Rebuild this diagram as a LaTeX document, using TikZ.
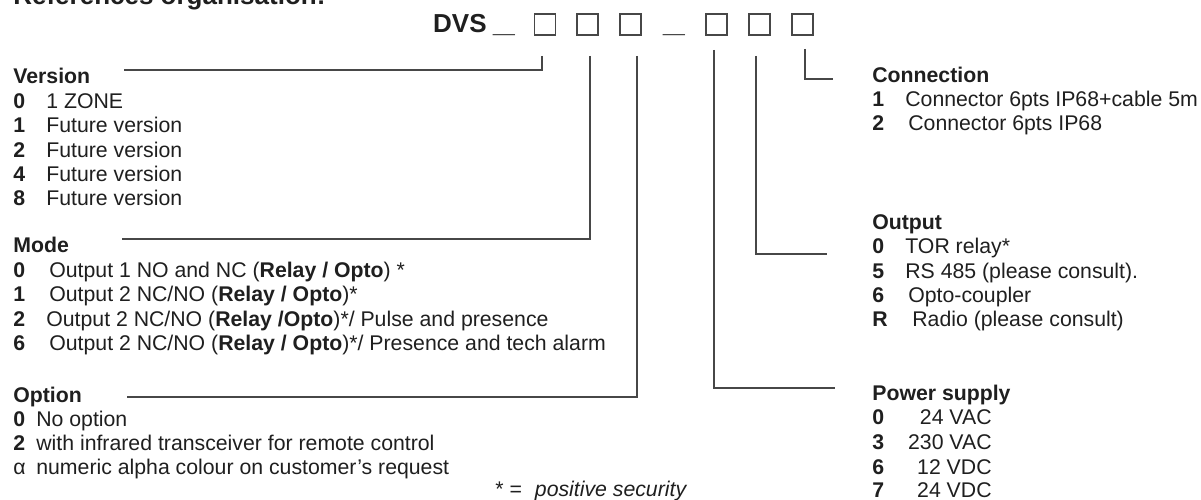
\documentclass[tikz,border=0pt]{standalone}
\usepackage{fontspec}
\setmainfont{Liberation Sans}
\usetikzlibrary{positioning}
\definecolor{inkgray}{HTML}{1F1F1F}
\definecolor{leadgray}{HTML}{474747}
\tikzset{
  codebox/.style={draw=leadgray, line width=1.1pt, minimum size=0.42cm, inner sep=0pt},
  codetext/.style={text=inkgray, inner sep=0pt, anchor=base, font=\fontsize{14.8}{17}\selectfont\bfseries},
  headtext/.style={text=inkgray, inner sep=0pt, anchor=base west, font=\fontsize{12.1}{14}\selectfont\bfseries},
  itemtext/.style={text=inkgray, inner sep=0pt, anchor=base west, font=\fontsize{12.1}{14}\selectfont},
  valuetext/.style={itemtext, anchor=base east},
  leadline/.style={draw=leadgray, line width=1.1pt}
}

\begin{document}
\begin{tikzpicture}[x=0.02cm, y=-0.02cm]
    \useasboundingbox[fill=white] (0,0) rectangle (1201,500);

    % reference code
    \node[codetext, anchor=base west] (title) at (13,5) {References organisation:};
    \node[codetext, anchor=base east] (dvs) at (487,33) {DVS};
    \node[codetext] (sep1) at (504,33) {\scalebox{1.5}[1]{\_}};
    \node[codebox] (b1) at (545,24.5) {};
    \node[codebox, right=0.4cm of b1] (b2) {};
    \node[codebox, right=0.4cm of b2] (b3) {};
    \node[codetext] (sep2) at (674,33) {\scalebox{1.5}[1]{\_}};
    \node[codebox, right=1.25cm of b3] (b4) {};
    \node[codebox, right=0.4cm of b4] (b5) {};
    \node[codebox, right=0.4cm of b5] (b6) {};

    % left column
    \node[headtext] (version) at (13,84) {Version};
    \node[headtext] (ver0) at (13,108.5) {0};
    \node[itemtext] (ver0txt) at (46,108.5) {1 ZONE};
    \node[headtext] (ver1) at (13,132.5) {1};
    \node[itemtext] (ver1txt) at (46,132.5) {Future version};
    \node[headtext] (ver2) at (13,157) {2};
    \node[itemtext] (ver2txt) at (46,157) {Future version};
    \node[headtext] (ver4) at (13,181) {4};
    \node[itemtext] (ver4txt) at (46,181) {Future version};
    \node[headtext] (ver8) at (13,205.5) {8};
    \node[itemtext] (ver8txt) at (46,205.5) {Future version};

    \node[headtext] (mode) at (13,253) {Mode};
    \node[headtext] (mode0) at (13,277.5) {0};
    \node[itemtext] (mode0txt) at (49,277.5) {Output 1 NO and NC (\textbf{Relay / Opto}) *};
    \node[headtext] (mode1) at (13,301.5) {1};
    \node[itemtext] (mode1txt) at (49,301.5) {Output 2 NC/NO (\textbf{Relay / Opto})*};
    \node[headtext] (mode2) at (13,326) {2};
    \node[itemtext] (mode2txt) at (46,326) {Output 2 NC/NO (\textbf{Relay /Opto})*/ Pulse and presence};
    \node[headtext] (mode6) at (13,350) {6};
    \node[itemtext] (mode6txt) at (49,350) {Output 2 NC/NO (\textbf{Relay / Opto})*/ Presence and tech alarm};

    \node[headtext] (option) at (13,402) {Option};
    \node[headtext] (opt0) at (13,426) {0};
    \node[itemtext] (opt0txt) at (36,426) {No option};
    \node[headtext] (opt2) at (13,450) {2};
    \node[itemtext] (opt2txt) at (36,450) {with infrared transceiver for remote control};
    \node[itemtext] (optalpha) at (13,474) {α};
    \node[itemtext] (optalphatxt) at (36,474) {numeric alpha colour on customer's request};

    \node[itemtext] (footnote) at (495,496) {* =\hspace{0.26cm}\textit{positive security}};

    % right column
    \node[headtext] (connection) at (872,82.5) {Connection};
    \node[headtext] (con1) at (872,106.5) {1};
    \node[itemtext] (con1txt) at (905,106.5) {Connector 6pts IP68+cable 5m};
    \node[headtext] (con2) at (872,130.5) {2};
    \node[itemtext] (con2txt) at (908,130.5) {Connector 6pts IP68};

    \node[headtext] (output) at (872,229.5) {Output};
    \node[headtext] (out0) at (872,253.5) {0};
    \node[itemtext] (out0txt) at (905,253.5) {TOR relay*};
    \node[headtext] (out5) at (872,278) {5};
    \node[itemtext] (out5txt) at (905,278) {RS 485 (please consult).};
    \node[headtext] (out6) at (872,302.5) {6};
    \node[itemtext] (out6txt) at (908,302.5) {Opto-coupler};
    \node[headtext] (outR) at (872,326.5) {R};
    \node[itemtext] (outRtxt) at (912,326.5) {Radio (please consult)};

    \node[headtext] (power) at (872,400.5) {Power supply};
    \node[headtext] (pow0) at (872,424.5) {0};
    \node[valuetext] (pow0txt) at (992,424.5) {24 VAC};
    \node[headtext] (pow3) at (872,449) {3};
    \node[valuetext] (pow3txt) at (992,449) {230 VAC};
    \node[headtext] (pow6) at (872,474) {6};
    \node[valuetext] (pow6txt) at (992,474) {12 VDC};
    \node[headtext] (pow7) at (872,497.5) {7};
    \node[valuetext] (pow7txt) at (992,497.5) {24 VDC};

    % leader lines
    \coordinate (verend) at (124,70);
    \coordinate (modeend) at (122,239);
    \coordinate (optend) at (127,397);
    \coordinate (conend) at (833,79);
    \coordinate (outend) at (827,254);
    \coordinate (powend) at (835,388);

    \draw[leadline] ([xshift=-0.06cm, yshift=-0.4cm]b1.south) |- (verend);
    \draw[leadline] ([xshift=0.04cm, yshift=-0.4cm]b2.south) |- (modeend);
    \draw[leadline] ([xshift=0.12cm, yshift=-0.4cm]b3.south) |- (optend);
    \draw[leadline] ([xshift=-0.05cm, yshift=-0.28cm]b4.south) |- (powend);
    \draw[leadline] ([xshift=-0.07cm, yshift=-0.4cm]b5.south) |- (outend);
    \draw[leadline] ([xshift=0.05cm, yshift=-0.26cm]b6.south) |- (conend);
\end{tikzpicture}
\end{document}
